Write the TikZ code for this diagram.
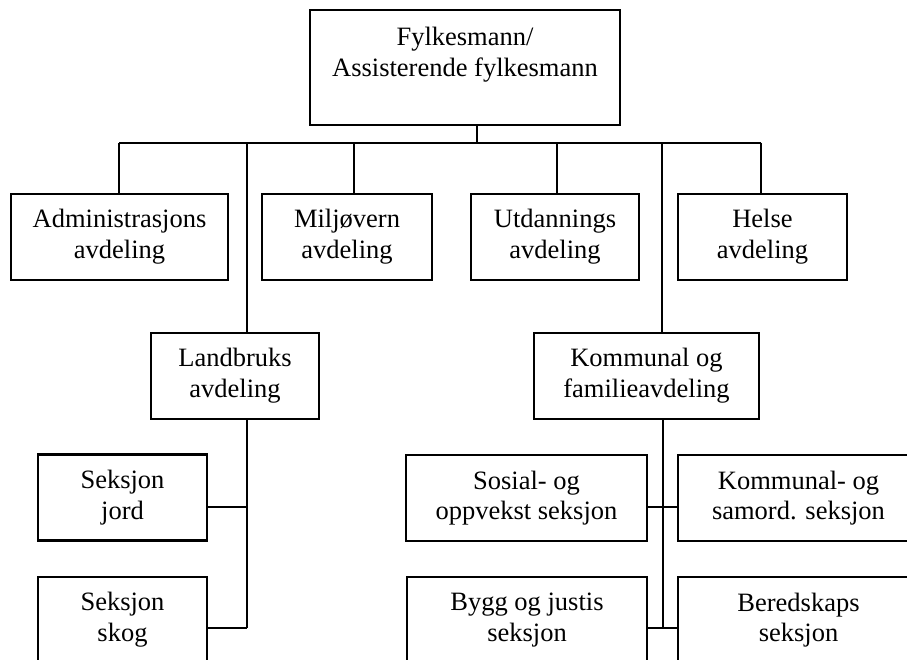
\documentclass[tikz,border=0pt]{standalone}
\usepackage{fontspec}
\setmainfont{Liberation Serif}
\usetikzlibrary{calc}

\begin{document}
\begin{tikzpicture}[x=1pt,y=-1pt,line join=miter,
  box/.style={draw,line width=2.6pt,align=center,inner sep=0pt,
    minimum height=\hb pt,font=\fontsize{26.5}{30.7}\selectfont},
  link/.style={line width=2pt}
  ]
  \def\hb{86}    % box height
  \def\yb{142.5} % bus height
  \useasboundingbox (0,0) rectangle (907,659);
  \clip (0,0) rectangle (907,659);
  % TOP
  \node[box,minimum width=310pt,minimum height=115pt] (top) at (465,67.5)
    {Fylkesmann/\\Assisterende fylkesmann\\\mbox{}};
  % DEPARTMENTS
  \node[box,minimum width=217pt] (admin) at (119.5,237) {Administrasjons\\avdeling};
  \node[box,minimum width=170pt] (milj)  at (347,237)   {Miljøvern\\avdeling};
  \node[box,minimum width=168pt] (utd)   at (555,237)   {Utdannings\\avdeling};
  \node[box,minimum width=169pt] (helse) at (762.5,237) {Helse\\avdeling};
  \node[box,minimum width=168pt] (land)  at (235,376)   {Landbruks\\avdeling};
  \node[box,minimum width=225pt] (komm)  at (646.5,376) {Kommunal og\\familieavdeling};
  % SECTIONS
  \node[box,minimum width=169pt] (jord)   at (122.5,497.5) {Seksjon\\jord};
  \node[box,minimum width=169pt] (skog)   at (122.5,620)   {Seksjon\\skog};
  \node[box,minimum width=241pt] (sosial) at (526.5,498)   {Sosial- og\\oppvekst seksjon};
  \node[box,minimum width=241pt] (samord) at (798.5,498)   {Kommunal- og\\samord. seksjon};
  \node[box,minimum width=240pt] (bygg)   at (527,620)     {Bygg og justis\\seksjon};
  \node[box,minimum width=241pt] (bered)  at (798.5,620)   {Beredskaps\\seksjon};
  % BUS
  \coordinate (bA) at (119,\yb);
  \coordinate (bL) at (247,\yb);
  \coordinate (bM) at (354,\yb);
  \coordinate (bT) at (477,\yb);
  \coordinate (bU) at (557,\yb);
  \coordinate (bK) at (662,\yb);
  \coordinate (bH) at (761,\yb);
  \draw[link] (bA) -- (bH);
  \draw[link] (bT) -- (bT |- top.south);
  \foreach \b/\n in {A/admin,L/land,M/milj,U/utd,K/komm,H/helse}
    \draw[link] (b\b) -- (b\b |- \n.north);
  % LANDBRUK TRUNK
  \coordinate (lj) at (247,507);
  \coordinate (ls) at (247,628);
  \draw[link] (land.south -| lj) -- (ls);
  \draw[link] (lj) -- (lj -| jord.east);
  \draw[link] (ls) -- (ls -| skog.east);
  % KOMMUNAL TRUNK
  \coordinate (k1) at (663,507);
  \coordinate (k2) at (663,628);
  \draw[link] (komm.south -| k1) -- (k2);
  \draw[link] (k1 -| sosial.east) -- (k1 -| samord.west);
  \draw[link] (k2 -| bygg.east)   -- (k2 -| bered.west);
\end{tikzpicture}
\end{document}
